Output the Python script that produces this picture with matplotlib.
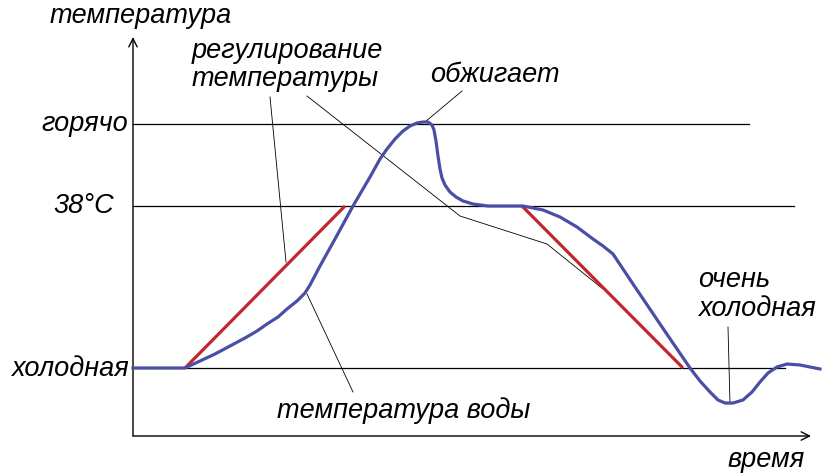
import matplotlib
matplotlib.use("Agg")
import matplotlib.pyplot as plt
from matplotlib.patches import FancyArrowPatch

# ---- data (diagram coordinates: time -> x, temperature level -> y, screen-like) ----
level_names = ["горячо", "38°C", "холодная"]
level_y = [125, 207, 369]
level_x_end = [749, 794, 785]

water_t = [133, 185, 200, 215, 230, 245, 257, 267, 278, 287, 297, 305, 310, 320, 335, 353,
           370, 380, 387, 395, 403, 410, 417, 423, 428, 432, 434, 436, 438, 440, 442, 445,
           450, 456, 463, 473, 488, 500, 523, 543, 560, 577, 593, 603, 613, 633, 660, 675,
           690, 700, 710, 718, 725, 733, 743, 752, 760, 768, 777, 787, 800, 820]
water_temp = [369, 369, 362, 355, 347, 339, 332, 325, 318, 310, 302, 294, 286, 267, 240, 207,
              178, 160, 150, 140, 132, 127, 124, 123, 123, 126, 131, 142, 157, 170, 179, 186,
              193, 198, 202, 205, 207, 207, 207, 211, 218, 228, 240, 247, 255, 285, 325, 347,
              369, 382, 393, 401, 404, 404, 401, 393, 383, 374, 368, 365, 366, 370]

reg_rise_t = [185, 345]
reg_rise_temp = [369, 207]
reg_fall_t = [522, 683]
reg_fall_temp = [207, 369]

leader_reg1_x = [270, 286]
leader_reg1_y = [98, 263]
leader_reg2_x = [307, 460, 547, 603]
leader_reg2_y = [97, 217, 245, 290]
leader_burn_x = [425, 462]
leader_burn_y = [123, 92]
leader_water_x = [307, 353]
leader_water_y = [295, 393]
leader_cold_x = [728, 730]
leader_cold_y = [328, 405]

BLUE = "#4a4fa5"
RED = "#c0282d"

fig = plt.figure(figsize=(8.36, 4.77), dpi=100)
ax = fig.add_axes([0, 0, 1, 1])
ax.set_xlim(0, 836)
ax.set_ylim(477, 0)
ax.axis("off")

font = dict(family=["Liberation Sans", "DejaVu Sans"], style="italic", fontsize=19.5, color="black")

# axes with open arrows
ax.add_patch(FancyArrowPatch((133, 437), (133, 38), arrowstyle="->,head_length=6,head_width=3",
                             lw=1.0, color="black", mutation_scale=1, shrinkA=0, shrinkB=0))
ax.add_patch(FancyArrowPatch((133, 437), (811, 437), arrowstyle="->,head_length=6,head_width=3",
                             lw=1.0, color="black", mutation_scale=1, shrinkA=0, shrinkB=0))

# level lines
for y, xe in zip(level_y, level_x_end):
    ax.plot([133, xe], [y, y], color="black", lw=0.9, zorder=1)

# leaders
for lx, ly in [(leader_reg1_x, leader_reg1_y), (leader_reg2_x, leader_reg2_y),
               (leader_burn_x, leader_burn_y), (leader_water_x, leader_water_y),
               (leader_cold_x, leader_cold_y)]:
    ax.plot(lx, ly, color="black", lw=0.6, zorder=2)

# regulation lines
ax.plot(reg_rise_t, reg_rise_temp, color=RED, lw=2.3, solid_capstyle="butt", zorder=3)
ax.plot(reg_fall_t, reg_fall_temp, color=RED, lw=2.3, solid_capstyle="butt", zorder=3)

# water temperature
ax.plot(water_t, water_temp, color=BLUE, lw=2.3, solid_joinstyle="round", zorder=4)

# labels
ax.text(50, 16, "температура", ha="left", va="center", **font)
ax.text(128, 124, level_names[0], ha="right", va="center", **font)
ax.text(114, 206, level_names[1], ha="right", va="center", **font)
ax.text(129, 369, level_names[2], ha="right", va="center", **font)
ax.text(192, 65, "регулирование\nтемпературы", ha="left", va="center", linespacing=1.15, **font)
ax.text(430, 75, "обжигает", ha="left", va="center", **font)
ax.text(277, 411, "температура воды", ha="left", va="center", **font)
ax.text(698, 295, "очень\nхолодная", ha="left", va="center", linespacing=1.15, **font)
ax.text(727, 460, "время", ha="left", va="center", **font)

fig.savefig("out.png", dpi=100)
